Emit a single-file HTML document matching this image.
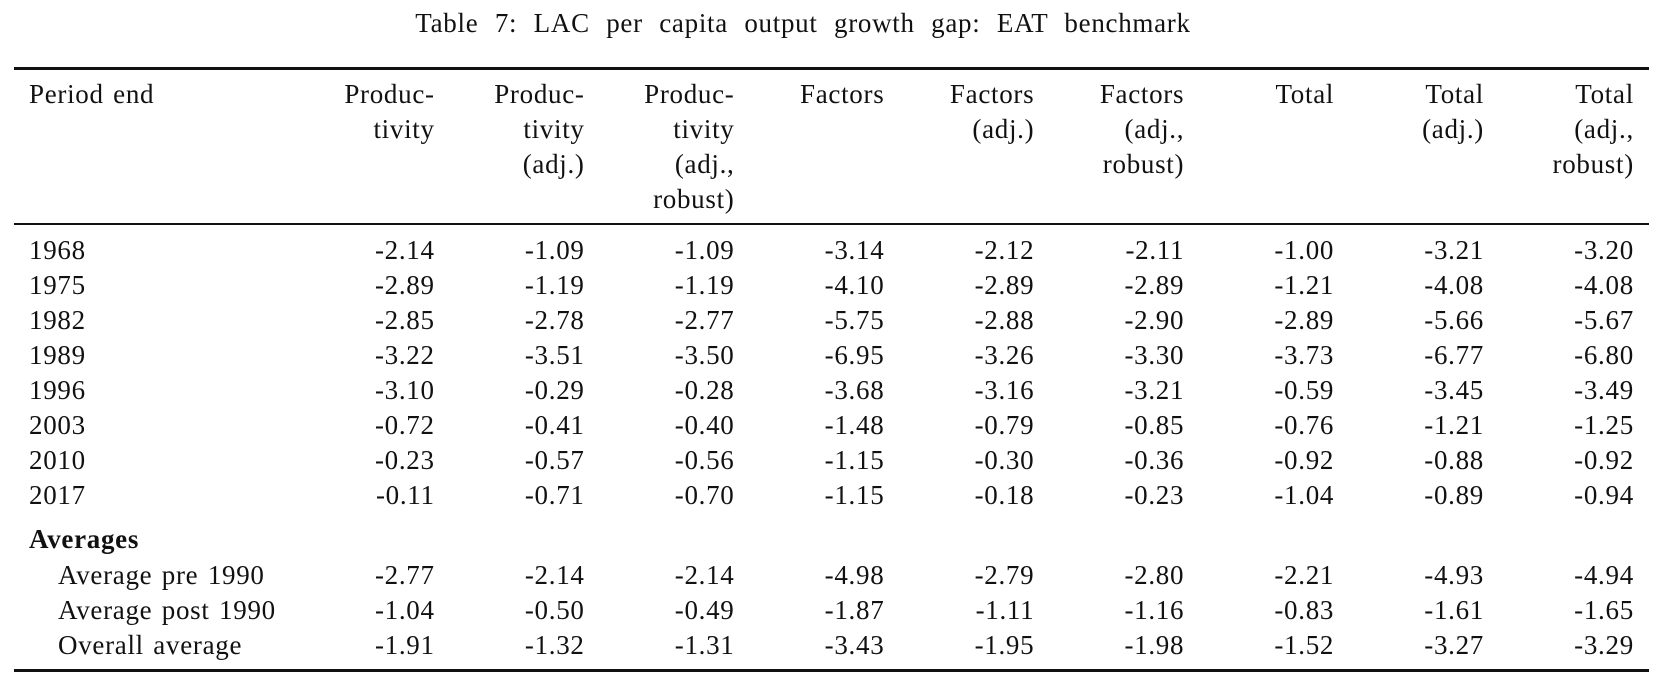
<!DOCTYPE html>
<html><head><meta charset="utf-8">
<style>
html,body{margin:0;padding:0;background:#fff;}
#wrap{position:relative;width:1664px;height:687px;overflow:hidden;font-family:"Liberation Serif",serif;font-size:27px;letter-spacing:0.7px;word-spacing:2px;color:#111;}
.t{position:absolute;white-space:nowrap;line-height:1;}
.r{position:absolute;background:#111;}
</style></head>
<body>
<div id="wrap">
<div class="t" style="left:0;width:1606px;text-align:center;top:10px;word-spacing:9px;">Table 7: LAC per capita output growth gap: EAT benchmark</div>
<div class="r" style="left:14px;width:1635px;top:67px;height:2.5px;"></div>
<div class="r" style="left:14px;width:1635px;top:223px;height:1.5px;"></div>
<div class="r" style="left:14px;width:1635px;top:669px;height:2.5px;"></div>
</div>
<script>
const headers=[["Produc-","tivity"],["Produc-","tivity","(adj.)"],["Produc-","tivity","(adj.,","robust)"],["Factors"],["Factors","(adj.)"],["Factors","(adj.,","robust)"],["Total"],["Total","(adj.)"],["Total","(adj.,","robust)"]];
const years=["1968","1975","1982","1989","1996","2003","2010","2017"];
const values=[
["-2.14","-1.09","-1.09","-3.14","-2.12","-2.11","-1.00","-3.21","-3.20"],
["-2.89","-1.19","-1.19","-4.10","-2.89","-2.89","-1.21","-4.08","-4.08"],
["-2.85","-2.78","-2.77","-5.75","-2.88","-2.90","-2.89","-5.66","-5.67"],
["-3.22","-3.51","-3.50","-6.95","-3.26","-3.30","-3.73","-6.77","-6.80"],
["-3.10","-0.29","-0.28","-3.68","-3.16","-3.21","-0.59","-3.45","-3.49"],
["-0.72","-0.41","-0.40","-1.48","-0.79","-0.85","-0.76","-1.21","-1.25"],
["-0.23","-0.57","-0.56","-1.15","-0.30","-0.36","-0.92","-0.88","-0.92"],
["-0.11","-0.71","-0.70","-1.15","-0.18","-0.23","-1.04","-0.89","-0.94"]];
const avgLabels=["Average pre 1990","Average post 1990","Overall average"];
const avgValues=[
["-2.77","-2.14","-2.14","-4.98","-2.79","-2.80","-2.21","-4.93","-4.94"],
["-1.04","-0.50","-0.49","-1.87","-1.11","-1.16","-0.83","-1.61","-1.65"],
["-1.91","-1.32","-1.31","-3.43","-1.95","-1.98","-1.52","-3.27","-3.29"]];
const wrap=document.getElementById('wrap');
function colRight(i){return 434+i*149.9;}
function add(txt,top,left,right,name,bold){
  const d=document.createElement('div');d.className='t';d.textContent=txt;
  
  
  d.style.top=top+'px';
  if(right!==null){d.style.right=(1664-right-0.7)+'px';}else{d.style.left=left+'px';}
  if(bold)d.style.fontWeight='bold';
  wrap.appendChild(d);
}
const LH=35;
add("Period end",81,29,null,'header-period-end');
headers.forEach((h,i)=>h.forEach((line,j)=>add(line,81+j*LH,0,colRight(i),'column-header')));
years.forEach((y,r)=>{
  const top=237+r*LH;
  add(y,top,29,null,'row-label');
  values[r].forEach((v,c)=>add(v,top,0,colRight(c),'cell-value'));
});
add("Averages",526,29,null,'averages-heading',true);
avgLabels.forEach((l,r)=>{
  const top=562+r*35.2;
  add(l,top,58,null,'average-label');
  avgValues[r].forEach((v,c)=>add(v,top,0,colRight(c),'average-value'));
});
</script>
</body></html>
